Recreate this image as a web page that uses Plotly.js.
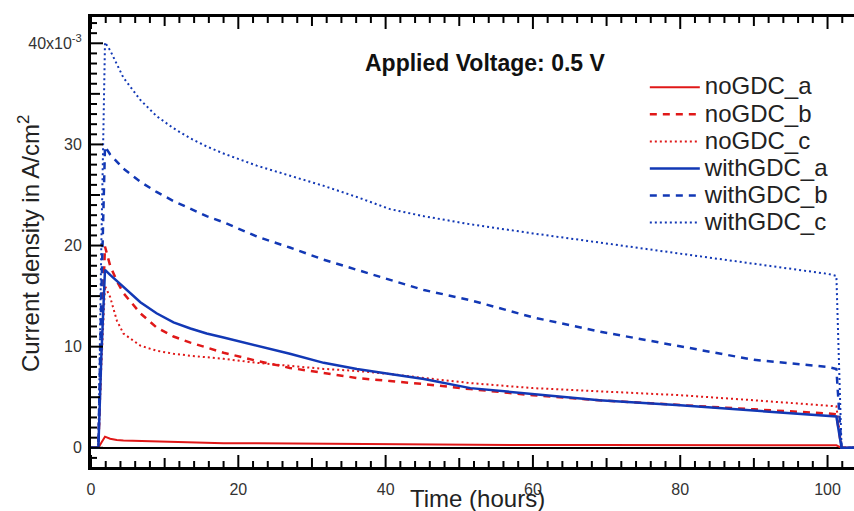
<!DOCTYPE html>
<html>
<head>
<meta charset="utf-8">
<script src="https://cdn.plot.ly/plotly-3.0.1.min.js"></script>
<style>
html,body{margin:0;padding:0;overflow:hidden;background:#fff;}
#chart{width:860px;height:511px;}
</style>
</head>
<body>
<div id="chart"></div>
<script>
// Time in hours
var time = [0, 1.0, 1.4, 1.9, 2.6, 3.5, 4.4, 6.7, 8.9, 11.2, 13.5, 15.7, 18, 22.5, 27, 31.6, 36.1, 40.6, 45.2, 51.5, 60, 69, 80, 90, 100, 101.2, 101.9, 104];

// Current density values in units of 1e-3 A/cm^2
var noGDC_a = [0, 0, 0.5, 1.1, 0.9, 0.77, 0.72, 0.67, 0.62, 0.58, 0.5, 0.48, 0.46, 0.44, 0.42, 0.37, 0.35, 0.33, 0.31, 0.27, 0.27, 0.27, 0.25, 0.25, 0.25, 0.25, 0, 0];
var noGDC_b = [0, 0, 10, 19.9, 18, 16.5, 15.3, 13.3, 11.9, 11.0, 10.4, 9.9, 9.4, 8.6, 7.9, 7.4, 6.9, 6.6, 6.3, 5.8, 5.2, 4.7, 4.2, 3.8, 3.4, 3.3, 0, 0];
var noGDC_c = [0, 0, 8, 16.0, 14.9, 12.6, 11.3, 10.1, 9.6, 9.3, 9.1, 8.95, 8.8, 8.4, 8.1, 7.8, 7.6, 7.3, 6.9, 6.4, 5.9, 5.6, 5.2, 4.7, 4.2, 4.1, 0, 0];
var withGDC_a = [0, 0, 9, 17.6, 17.1, 16.5, 15.9, 14.4, 13.3, 12.4, 11.8, 11.3, 10.9, 10.1, 9.3, 8.4, 7.8, 7.3, 6.8, 5.9, 5.3, 4.7, 4.2, 3.7, 3.2, 3.1, 0, 0];
var withGDC_b = [0, 0, 15, 29.8, 29.0, 28.3, 27.6, 26.3, 25.3, 24.4, 23.6, 22.9, 22.3, 20.9, 19.8, 18.6, 17.6, 16.6, 15.6, 14.6, 12.9, 11.5, 10.0, 8.7, 8.0, 7.8, 0, 0];
var withGDC_c = [0, 0, 20, 40.1, 39.3, 38.0, 36.6, 34.4, 32.8, 31.6, 30.6, 29.8, 29.1, 27.9, 26.9, 25.9, 24.8, 23.6, 22.9, 22.1, 21.2, 20.3, 19.2, 18.2, 17.2, 17.0, 0, 0];

var seriesNames = ["noGDC_a", "noGDC_b", "noGDC_c", "withGDC_a", "withGDC_b", "withGDC_c"];
var seriesValues = [noGDC_a, noGDC_b, noGDC_c, withGDC_a, withGDC_b, withGDC_c];

var xTickVals = [0, 20, 40, 60, 80, 100];
var yTickVals = [0, 10, 20, 30, 40];
var yTickText = ['0', '10', '20', '30', '40x10<sup>-3</sup>'];

var RED = '#e01818', BLUE = '#1238b5';
var styles = [
  {color: RED, width: 2, dash: 'solid'},
  {color: RED, width: 2.5, dash: '7px,6px'},
  {color: RED, width: 2, dash: '2px,3px'},
  {color: BLUE, width: 2.5, dash: 'solid'},
  {color: BLUE, width: 2.5, dash: '7px,6px'},
  {color: BLUE, width: 2, dash: '2px,3px'}
];
var FONT = 'Liberation Sans, Arial, sans-serif';
var X_RANGE = [0, 104], Y_RANGE = [-1.9, 42.6];

var traces = seriesValues.map(function(v, i) {
  return {x: time, y: v, type: 'scatter', mode: 'lines',
    name: '<span style="font-size:24px">' + seriesNames[i] + '</span>', line: styles[i], hoverinfo: 'skip'};
});

// Inside tick marks (major / mid / minor) drawn as axis-anchored pixel-length shapes
var tickShapes = [];
var tickLine = {color: 'black', width: 2};
function tickLen(k, major, mid) { return k % major === 0 ? 12 : (k % mid === 0 ? 9 : 6); }
for (var t = 0; t <= 104; t += 2) {
  var lx = tickLen(t, 20, 10);
  tickShapes.push({type: 'line', xref: 'x', yref: 'paper', x0: t, x1: t, ysizemode: 'pixel', yanchor: 0, y0: 0, y1: lx, line: tickLine, layer: 'above'});
  tickShapes.push({type: 'line', xref: 'x', yref: 'paper', x0: t, x1: t, ysizemode: 'pixel', yanchor: 1, y0: 0, y1: -lx, line: tickLine, layer: 'above'});
}
for (var v = -1; v <= 42; v += 1) {
  var ly = tickLen(v, 10, 5);
  tickShapes.push({type: 'line', xref: 'paper', yref: 'y', y0: v, y1: v, xsizemode: 'pixel', xanchor: 0, x0: 0, x1: ly, line: tickLine, layer: 'above'});
}

var layout = {
  width: 860, height: 511,
  margin: {l: 91, r: 3, t: 17, b: 44},
  paper_bgcolor: 'white', plot_bgcolor: 'white',
  font: {family: FONT, color: '#222'},
  xaxis: {showline: true, linecolor: 'black', linewidth: 3, mirror: true, ticks: '',
    showgrid: false, tickfont: {family: FONT, size: 16, color: '#333'},
    range: X_RANGE, tickmode: 'array', tickvals: xTickVals, zeroline: false,
    ticklabelstandoff: 6},
  yaxis: {showline: true, linecolor: 'black', linewidth: 3, mirror: true, ticks: '',
    showgrid: false, tickfont: {family: FONT, size: 16, color: '#333'},
    range: Y_RANGE, tickmode: 'array', tickvals: yTickVals, ticktext: yTickText,
    zeroline: true, zerolinecolor: 'black', zerolinewidth: 2, ticklabelstandoff: 3},
  shapes: tickShapes,
  showlegend: true,
  legend: {x: 0.723, y: 0.885, xanchor: 'left', yanchor: 'top', bgcolor: 'rgba(0,0,0,0)',
    font: {family: FONT, size: 18.5, color: '#222'}, itemwidth: 50, tracegroupgap: 0},
  annotations: [
    {text: '<b>Applied Voltage: 0.5 V</b>', xref: 'paper', yref: 'paper', x: 0.514, y: 0.898,
     xanchor: 'center', yanchor: 'middle', showarrow: false, font: {family: FONT, size: 23, color: '#111'}},
    {text: 'Current density in A/cm<sup>2</sup>', xref: 'paper', yref: 'paper', x: -0.08, y: 0.497,
     xanchor: 'center', yanchor: 'middle', textangle: -90, showarrow: false, font: {family: FONT, size: 24, color: '#222'}},
    {text: 'Time (hours)', xref: 'paper', yref: 'paper', x: 0.504, y: -0.071,
     xanchor: 'center', yanchor: 'middle', showarrow: false, font: {family: FONT, size: 24, color: '#222'}}
  ]
};

Plotly.newPlot('chart', traces, layout, {displayModeBar: false});
</script>
</body>
</html>
